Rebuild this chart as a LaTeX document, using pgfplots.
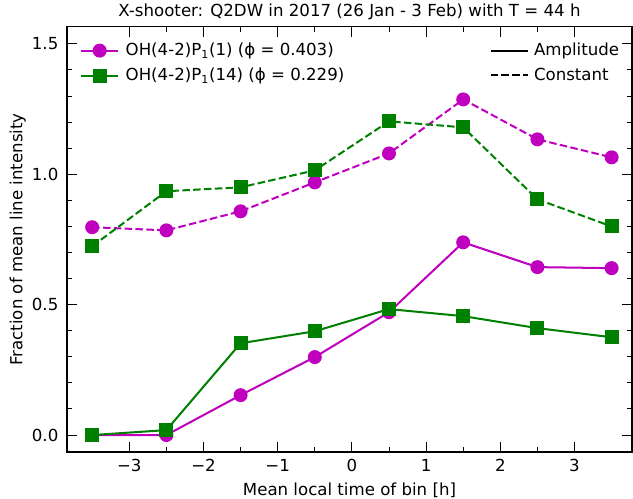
\documentclass[border=0pt]{standalone}
\usepackage{fontspec}
\setmainfont{DejaVu Sans}
\usepackage{pgfplots}
\pgfplotsset{compat=1.18}

\definecolor{mpm}{rgb}{0.75,0,0.75}
\definecolor{mpg}{rgb}{0,0.5,0}

\pgfplotsset{
  every axis/.append style={font=\fontsize{12}{14}\selectfont},
  every axis title shift=0pt,
  mpline/.style={line width=1.45bp},
  mpdash/.style={line width=1.45bp, dash pattern=on 5.4bp off 2.4bp},
}

\begin{document}
\begin{tikzpicture}
\begin{axis}[
    name=main,
    scale only axis,
    width=406.8bp, height=306bp,
    xmin=-3.84, xmax=3.775,
    ymin=-0.065, ymax=1.565,
    xtick={-3,-2,-1,0,1,2,3},
    xticklabels={−3,−2,−1,0,1,2,3},
    ytick={0,0.5,1,1.5},
    yticklabels={0.0,0.5,1.0,1.5},
    minor x tick num=1,
    minor y tick num=4,
    tick align=inside,
    xticklabel pos=lower, yticklabel pos=left,
    major tick length=7bp, minor tick length=3.6bp,
    every tick/.style={black, line width=0.7bp},
    axis line style={line width=0.8bp},
    xticklabel style={inner sep=0pt, yshift=-5bp},
    yticklabel style={inner sep=0pt, xshift=-6bp},
    title={X-shooter: Q2DW in 2017 (26 Jan - 3 Feb) with T = 44 h},
    title style={at={(axis description cs:0.5,1.036)}, anchor=center, inner sep=0pt},
    xlabel={Mean local time of bin [h]},
    xlabel style={at={(axis description cs:0.5,-0.09)}, anchor=center, inner sep=0pt},
    ylabel={Fraction of mean line intensity},
    ylabel style={at={(axis description cs:-0.087,0.5)}, anchor=center, inner sep=0pt},
    legend cell align=left,
    legend style={draw=none, fill=none, at={(0.02,0.972)}, anchor=north west,
      row sep=3.4bp, column sep=2.5bp, inner sep=1bp},
    legend image code/.code={
      \draw[#1, mark repeat=2, mark phase=2] plot coordinates {(0bp,0bp) (13.5bp,0bp) (27bp,0bp)};
    },
]
% amplitude, P1(1)
\addplot[mpm, mpline, mark=*, mark size=4.3bp, mark options={solid}] coordinates {
  (-3.5,0.000) (-2.5,0.000) (-1.5,0.153) (-0.5,0.299)
  (0.5,0.471) (1.5,0.739) (2.5,0.644) (3.5,0.640)
};
\addlegendentry{OH(4-2)P\textsubscript{1}(1) (ϕ = 0.403)}
% amplitude, P1(14)
\addplot[mpg, mpline, mark=square*, mark size=4.3bp, mark options={solid}] coordinates {
  (-3.5,0.000) (-2.5,0.019) (-1.5,0.352) (-0.5,0.398)
  (0.5,0.483) (1.5,0.456) (2.5,0.410) (3.5,0.375)
};
\addlegendentry{OH(4-2)P\textsubscript{1}(14) (ϕ = 0.229)}
% constant, P1(1)
\addplot[mpm, mpdash, mark=*, mark size=4.3bp, mark options={solid}, forget plot] coordinates {
  (-3.5,0.797) (-2.5,0.785) (-1.5,0.858) (-0.5,0.969)
  (0.5,1.080) (1.5,1.287) (2.5,1.134) (3.5,1.065)
};
% constant, P1(14)
\addplot[mpg, mpdash, mark=square*, mark size=4.3bp, mark options={solid}, forget plot] coordinates {
  (-3.5,0.724) (-2.5,0.935) (-1.5,0.950) (-0.5,1.015)
  (0.5,1.203) (1.5,1.180) (2.5,0.904) (3.5,0.800)
};
\end{axis}
% second legend for line styles
\begin{axis}[
    scale only axis,
    width=406.8bp, height=306bp,
    xmin=0, xmax=1, ymin=0, ymax=1,
    hide axis,
    legend cell align=left,
    legend style={draw=none, fill=none, at={(0.985,0.972)}, anchor=north east,
      row sep=3.4bp, column sep=1.5bp, inner sep=1bp},
    legend image code/.code={
      \draw[#1] (0bp,0bp) -- (27bp,0bp);
    },
]
\addlegendimage{black, mpline}
\addlegendentry{Amplitude}
\addlegendimage{black, mpdash}
\addlegendentry{Constant}
\end{axis}
\path (main.south west) ++(-48.2bp,-33.8bp) coordinate (bbA);
\path (main.north east) ++(0.7bp,19.4bp) coordinate (bbB);
\path (bbA) rectangle (bbB);
\end{tikzpicture}
\end{document}
